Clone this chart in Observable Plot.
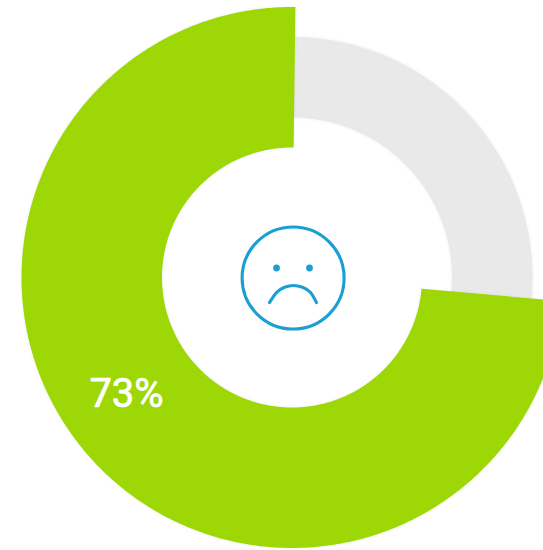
<!DOCTYPE html>
<html><head><meta charset="utf-8">
<script src="https://cdn.jsdelivr.net/npm/d3@7"></script>
<script src="https://cdn.jsdelivr.net/npm/@observablehq/plot@0.6"></script>
<style>html,body{margin:0;padding:0;background:#fff;overflow:hidden}
svg{display:block}
.ring{filter:drop-shadow(0 0 1.5px rgba(0,0,0,.07))}
</style></head><body><div id="c"></div>
<script>
const W = 543, H = 550;
// ring values, in percent of the full circle
const trackStart = 0, trackEnd = 100;
const valueStart = 26.39, valueEnd = 100.2;
const valueLabel = "73%";
const trackRadii = [160, 240.5];
const valueRadii = [130, 270.5];
const colors = {value:"#9dd705", track:"#e9e9e9", face:"#1b9fd3"};
// smiley, in the same coordinates as the rings (centre = 0,0, y up)
const faceCircle = [{x:0.6, y:0}];
const eyes = [{x:-16, y:10},{x:17, y:10}];
const mouth = [{x:-23,y:-24.6},{x:-16,y:-14.6},{x:-8,y:-9.3},{x:1,y:-7.5},{x:10,y:-9.3},{x:18,y:-14.6},{x:24,y:-24.6}];
const labelPoint = [{x:-166, y:-116, t:valueLabel}];

const ring = (from, to, [r0, r1]) => {
  const n = Math.ceil((to - from) * 8);
  return d3.range(n + 1).map(i => {
    const a = (from + (to - from) * i / n) / 100 * 2 * Math.PI;
    return {x1:r0*Math.sin(a), y1:r0*Math.cos(a), x2:r1*Math.sin(a), y2:r1*Math.cos(a)};
  });
};

const cx = 292, cy = 277.5;
const chart = Plot.plot({
  width:W, height:H, margin:0,
  style:{background:"transparent"},
  x:{domain:[-cx, W-cx], range:[0,W], axis:null},
  y:{domain:[-(H-cy), cy], range:[H,0], axis:null},
  marks:[
    Plot.area(ring(trackStart, trackEnd, trackRadii), {x1:"x1",y1:"y1",x2:"x2",y2:"y2",fill:colors.track,className:"ring"}),
    Plot.area(ring(valueStart, valueEnd, valueRadii), {x1:"x1",y1:"y1",x2:"x2",y2:"y2",fill:colors.value,className:"ring"}),
    Plot.dot(faceCircle,{x:"x",y:"y",r:51,stroke:colors.face,strokeWidth:3.1,fill:"none"}),
    Plot.dot(eyes,{x:"x",y:"y",r:3.4,fill:colors.face,stroke:"none"}),
    Plot.line(mouth,{x:"x",y:"y",curve:"natural",stroke:colors.face,strokeWidth:3.1,strokeLinecap:"round"}),
    Plot.text(labelPoint,{x:"x",y:"y",text:"t",fill:"#fff",stroke:"#fff",strokeWidth:0.7,fontSize:40,fontWeight:400,fontFamily:"Roboto",textAnchor:"middle",lineAnchor:"middle"})
  ]
});
document.getElementById("c").append(chart);
</script></body></html>
